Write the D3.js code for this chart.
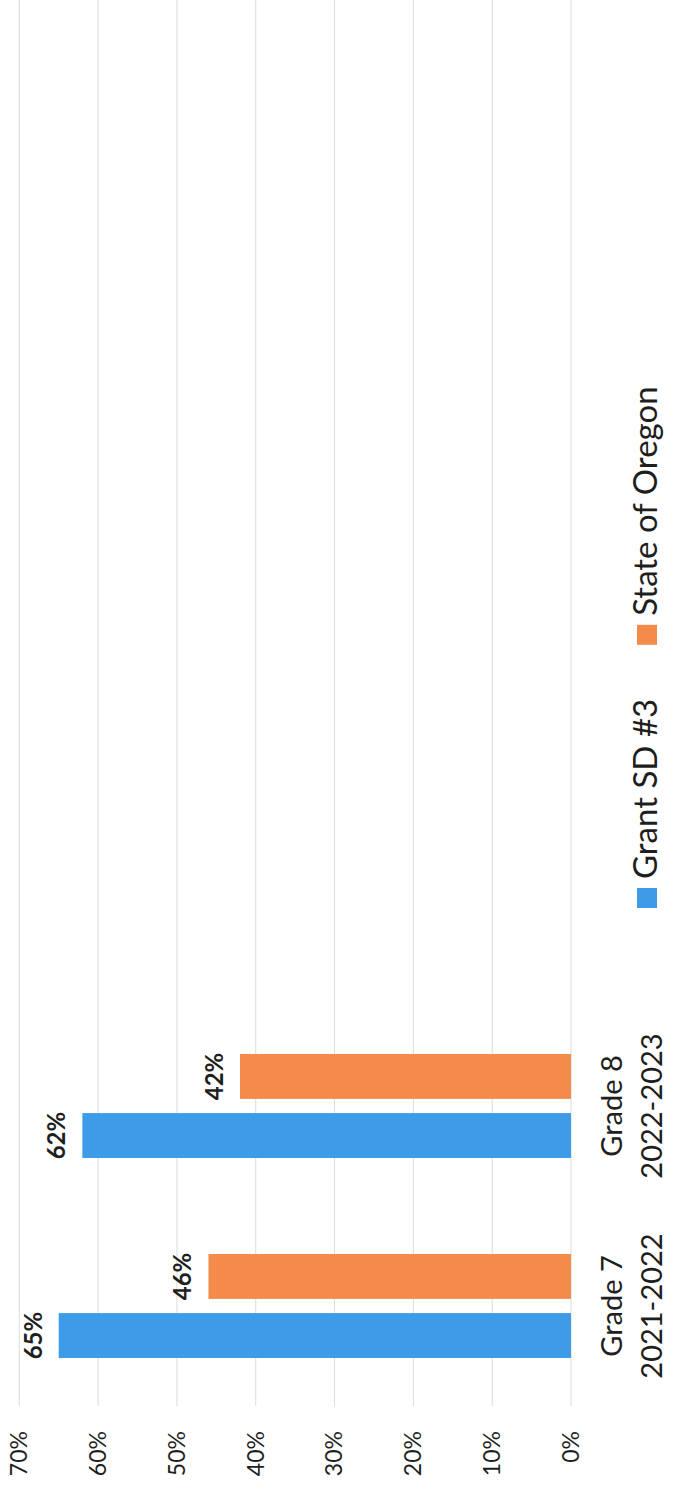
<!DOCTYPE html>
<html>
<head>
<meta charset="utf-8">
<script src="https://cdn.jsdelivr.net/npm/d3@7"></script>
<style>
  html, body { margin: 0; padding: 0; background: #fff; }
  svg { display: block; }
  text { font-family: Lato, "Open Sans", sans-serif; fill: #1e1e1e; }
</style>
</head>
<body>
<svg id="chart" width="678" height="1490"></svg>
<script>
// Proficiency by cohort, district vs state
const categories = ["Grade 7|2021-2022", "Grade 8|2022-2023"];
const seriesNames = ["Grant SD #3", "State of Oregon"];
const grantValues = [0.65, 0.62];
const oregonValues = [0.46, 0.42];
const tickValues = [0, 0.1, 0.2, 0.3, 0.4, 0.5, 0.6, 0.7];
const seriesColors = ["#3e9be8", "#f38b4a"];

const W = 1490, H = 678; // chart laid out landscape, then turned a quarter
const svg = d3.select("#chart");
const g = svg.append("g").attr("transform", `translate(0,${W}) rotate(-90)`);

const plotLeft = 84;
const x0 = d3.scaleBand().domain(categories).range([plotLeft, plotLeft + 200 * categories.length]);
const x1 = d3.scaleBand().domain(seriesNames).range([48, 152]).paddingInner(0.24);
const y = d3.scaleLinear().domain([0, 0.7]).range([571, 19.3]);

const fmt = d3.format(".0%");

// gridlines
g.append("g").selectAll("line").data(tickValues).join("line")
  .attr("x1", plotLeft).attr("x2", W + 10)
  .attr("y1", d => y(d)).attr("y2", d => y(d))
  .attr("stroke", "#dcdcdc").attr("stroke-width", 1);

// value axis labels
const yAxis = d3.axisLeft(y).tickValues(tickValues).tickFormat(fmt).tickSize(0).tickPadding(0);
const ya = g.append("g").attr("transform", "translate(59,0)").call(yAxis);
ya.select(".domain").remove();
ya.selectAll("text").attr("font-size", 23).attr("font-family", "Lato, sans-serif").attr("fill", "#1e1e1e");

// bars
const rows = categories.map((c, i) => ({ cat: c, vals: [grantValues[i], oregonValues[i]] }));
const groups = g.append("g").selectAll("g").data(rows).join("g")
  .attr("transform", d => `translate(${x0(d.cat)},0)`);

groups.selectAll("rect").data(d => d.vals.map((v, j) => ({ v, s: seriesNames[j], j }))).join("rect")
  .attr("x", d => x1(d.s)).attr("width", x1.bandwidth())
  .attr("y", d => y(d.v)).attr("height", d => y(0) - y(d.v))
  .attr("fill", d => seriesColors[d.j]);

groups.selectAll("text.val").data(d => d.vals.map((v, j) => ({ v, s: seriesNames[j] }))).join("text")
  .attr("class", "val")
  .attr("x", d => x1(d.s) + x1.bandwidth() / 2)
  .attr("y", d => y(d.v) - 17)
  .attr("text-anchor", "middle")
  .attr("font-size", 24).attr("font-weight", "bold")
  .text(d => fmt(d.v));

// category labels
const cat = g.append("g").selectAll("text").data(categories).join("text")
  .attr("text-anchor", "middle")
  .attr("font-size", 29)
  .attr("transform", d => `translate(${x0(d) + x0.bandwidth() / 2},0)`);
cat.append("tspan").attr("x", 0).attr("y", 622).text(d => d.split("|")[0]);
cat.append("tspan").attr("x", 0).attr("y", 662).text(d => d.split("|")[1]);

// legend
const legend = g.append("g");
let lx = 582;
seriesNames.forEach((name, j) => {
  legend.append("rect").attr("x", lx).attr("y", 637).attr("width", 20).attr("height", 20)
    .attr("fill", seriesColors[j]);
  const t = legend.append("text").attr("x", lx + 29).attr("y", 657)
    .attr("font-size", 33).text(name);
  lx = lx + 29 + t.node().getComputedTextLength() + 54;
});
</script>
</body>
</html>
